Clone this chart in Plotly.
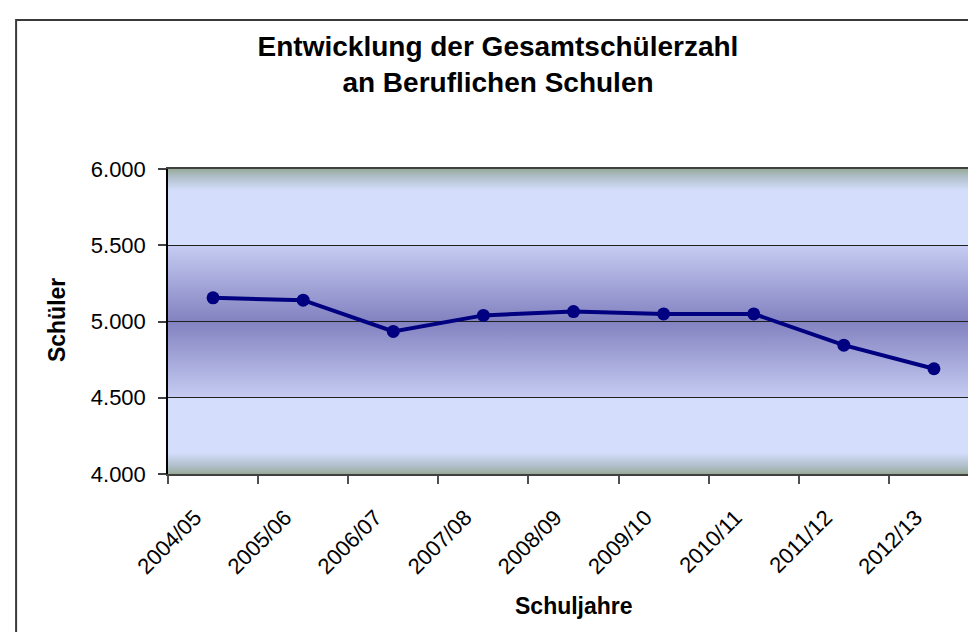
import base64
import plotly.graph_objects as go

# ---- data ----
schuljahre = ["2004/05", "2005/06", "2006/07", "2007/08", "2008/09",
              "2009/10", "2010/11", "2011/12", "2012/13"]
schueler = [5155, 5140, 4935, 5040, 5065, 5050, 5050, 4845, 4690]
y_ticks = [4000, 4500, 5000, 5500, 6000]

title_text = "Entwicklung der Gesamtschülerzahl<br>an Beruflichen Schulen"
x_title = "Schuljahre"
y_title = "Schüler"

FONT = "Liberation Sans, Arial, sans-serif"

# ---- background gradient (style only) ----
G = "#98ab98"
MIDG = "#acbcc4"
L = "#d4defc"
M = "#c6ccf2"
D = "#8282c0"
grad_stops = [(0.0, G), (0.022, MIDG), (0.07, L), (0.25, L), (0.25, M),
              (0.5, D), (0.75, M), (0.75, L), (0.93, L), (0.978, MIDG),
              (1.0, G)]
stops_svg = "".join('<stop offset="%g" stop-color="%s"/>' % (o, c)
                    for o, c in grad_stops)
svg = ('<svg xmlns="http://www.w3.org/2000/svg" width="812" height="305" '
       'viewBox="0 0 812 305" preserveAspectRatio="none">'
       '<defs><linearGradient id="g" x1="0" y1="0" x2="0" y2="1">'
       + stops_svg +
       '</linearGradient></defs>'
       '<rect x="0" y="0" width="812" height="305" fill="url(#g)"/></svg>')
bg_uri = "data:image/svg+xml;base64," + base64.b64encode(svg.encode()).decode()

shapes = [
    # chart-area border (only left/top visible in the crop)
    dict(type="rect", xref="paper", yref="paper",
         x0=(8 - 160) / 811.5, x1=1.2, y0=-1.0, y1=(466 - 12) / 305,
         line=dict(color="#3a3a3a", width=2), layer="above"),
]

fig = go.Figure()
fig.add_trace(go.Scatter(
    x=schuljahre, y=schueler, mode="lines+markers",
    line=dict(color="#000080", width=4),
    marker=dict(color="#000080", size=13),
    showlegend=False, hoverinfo="x+y"))

fig.update_layout(
    width=976, height=632,
    margin=dict(l=160, r=5, t=161, b=166, autoexpand=False),
    paper_bgcolor="white", plot_bgcolor="white",
    separators=",.",
    font=dict(family=FONT, color="black", size=22),
    title=dict(text="<b>" + title_text + "</b>", x=490 / 976, xanchor="center",
               y=1 - 48 / 632, yanchor="top", yref="container",
               font=dict(family=FONT, size=28, color="black")),
    shapes=shapes,
    images=[dict(source=bg_uri, xref="x domain", yref="y domain",
                 x=0, y=1, sizex=1, sizey=1, xanchor="left", yanchor="top",
                 sizing="stretch", layer="below")],
    annotations=[
        dict(text="<b>" + x_title + "</b>", xref="paper", yref="paper",
             x=0.5, y=(466 - 598) / 305, xanchor="center", yanchor="middle",
             showarrow=False, font=dict(family=FONT, size=23, color="black")),
        dict(text="<b>" + y_title + "</b>", xref="paper", yref="paper",
             x=(49 - 160) / 811.5, y=(466 - 312) / 305, xanchor="center",
             yanchor="middle", textangle=-90, showarrow=False,
             font=dict(family=FONT, size=23, color="black")),
    ],
)

fig.update_xaxes(
    type="category", tickson="boundaries", ticks="outside", ticklen=8,
    tickcolor="#505050", tickwidth=1.5, tickangle=-45,
    tickfont=dict(family=FONT, size=22, color="black"),
    ticklabelshift=-18, ticklabelstandoff=20,
    showline=True, linecolor="#404040", linewidth=2, mirror=True,
    showgrid=False, zeroline=False, range=[-0.5, len(schuljahre) - 0.5],
)
fig.update_yaxes(
    range=[4000, 6000], tickvals=y_ticks, tickformat=",d",
    ticks="outside", ticklen=8, tickcolor="#404040", tickwidth=1.5,
    tickfont=dict(family=FONT, size=22, color="black"),
    ticklabelstandoff=8,
    showline=True, linecolor="black", linewidth=1.5, mirror=True,
    showgrid=True, gridcolor="#202020", gridwidth=1, zeroline=False,
)

fig.write_html("out.html")
